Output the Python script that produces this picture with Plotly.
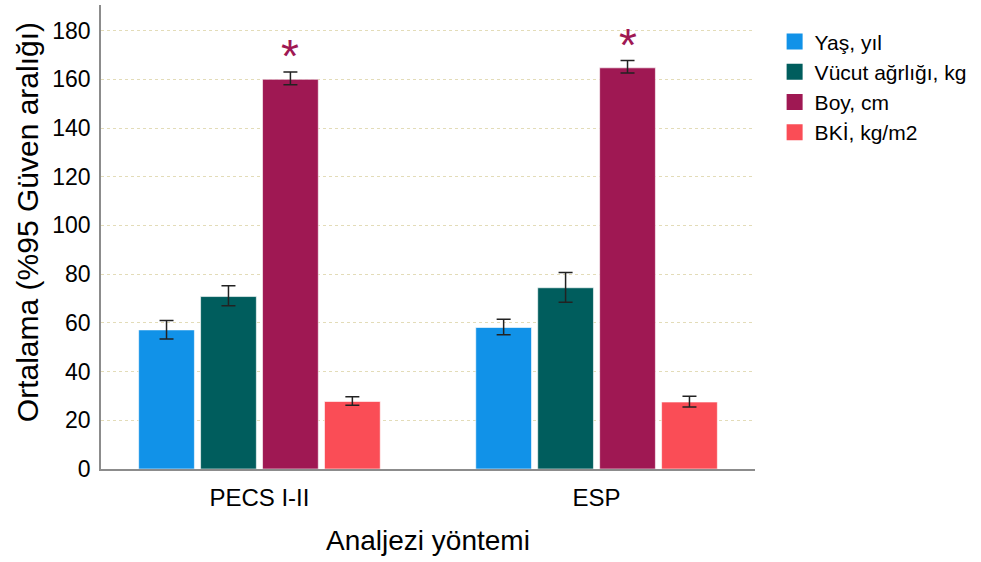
import plotly.graph_objects as go

categories = ["PECS I-II", "ESP"]
series_names = ["Yaş, yıl", "Vücut ağrlığı, kg", "Boy, cm", "BKİ, kg/m2"]
colors = ["#1192e8", "#005d5d", "#9f1853", "#fa4d56"]
means = [
    [57.1, 58.1],
    [70.8, 74.4],
    [160.0, 164.7],
    [27.7, 27.5],
]
upper = [
    [61.0, 61.5],
    [75.2, 80.7],
    [163.0, 167.7],
    [29.7, 29.9],
]
lower = [
    [53.4, 55.1],
    [67.0, 68.5],
    [157.8, 162.6],
    [26.2, 25.5],
]
y_ticks = [0, 20, 40, 60, 80, 100, 120, 140, 160, 180]

FONT = "Arial, Liberation Sans, sans-serif"

fig = go.Figure()
for name, col, m, u, lo in zip(series_names, colors, means, upper, lower):
    fig.add_trace(go.Bar(
        name=name, x=categories, y=m, showlegend=False, legendgroup=name,
        marker=dict(color=col, line=dict(color="rgba(255,255,255,0.6)", width=1)),
        error_y=dict(type="data", symmetric=False,
                     array=[a - b for a, b in zip(u, m)],
                     arrayminus=[b - c for b, c in zip(m, lo)],
                     color="#222222", thickness=1.5, width=7),
    ))
# legend entries with larger square swatches
for name, col in zip(series_names, colors):
    fig.add_trace(go.Scatter(
        name=name, x=[None], y=[None], mode="markers", legendgroup=name,
        marker=dict(symbol="square", size=16, color=col),
    ))

# significance asterisks above the height bars
for i, cat in enumerate(categories):
    fig.add_annotation(x=cat, y=upper[2][i], xref="x", yref="y",
                       text="*", showarrow=False, xshift=31, yshift=-12,
                       yanchor="bottom",
                       font=dict(size=46, color="#9f1853", family=FONT))

# axis titles as annotations for exact placement
fig.add_annotation(text="Ortalama (%95 Güven aralığı)", xref="paper", yref="paper",
                   x=0, y=0.532, xshift=-74, textangle=-90, showarrow=False,
                   xanchor="center", yanchor="middle",
                   font=dict(size=30, family=FONT, color="#000000"))
fig.add_annotation(text="Analjezi yöntemi", xref="paper", yref="paper",
                   x=0.5, y=-0.155, showarrow=False,
                   xanchor="center", yanchor="middle",
                   font=dict(size=28, family=FONT, color="#000000"))

fig.update_layout(
    width=981, height=562,
    margin=dict(l=101, r=226, t=5, b=93),
    paper_bgcolor="white", plot_bgcolor="white",
    barmode="group", bargap=0.265, bargroupgap=0.1,
    font=dict(family=FONT, color="#000000"),
    showlegend=True,
    legend=dict(x=1.03, y=0.965, xanchor="left", yanchor="top",
                font=dict(size=21, family=FONT), traceorder="normal",
                itemsizing="trace", itemwidth=30, tracegroupgap=0,
                bgcolor="rgba(0,0,0,0)"),
    xaxis=dict(range=[-0.47, 1.47], showline=True, linecolor="#8c8c8c", linewidth=1.5,
               ticks="", tickfont=dict(size=24), showgrid=False, automargin=False,
               ticklabelstandoff=6),
    yaxis=dict(range=[0, 190.5], tickvals=y_ticks, showline=True, linecolor="#8c8c8c",
               linewidth=1.5, ticks="", tickfont=dict(size=23), showgrid=True,
               gridcolor="#e3dcb8", griddash="dot", gridwidth=1, zeroline=False,
               automargin=False, ticklabelstandoff=4),
)

fig.write_html("out.html",
               config={"displayModeBar": False},
               post_script="document.body.style.margin='0';document.body.style.overflow='hidden';")
